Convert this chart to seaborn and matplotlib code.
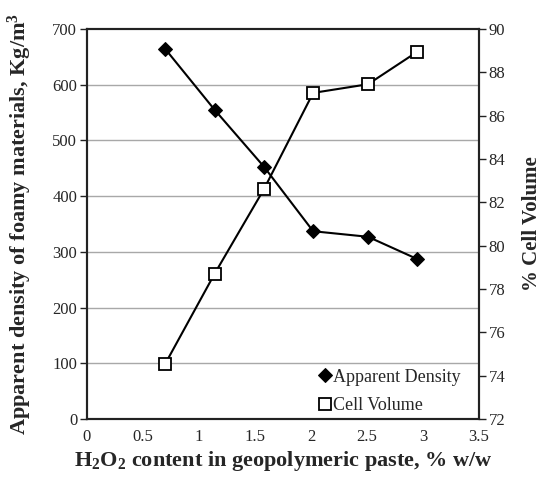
import matplotlib
matplotlib.use("Agg")
import matplotlib.pyplot as plt
import seaborn as sns
import pandas as pd

h2o2 = [0.70, 1.14, 1.58, 2.02, 2.51, 2.95]
density = [664, 555, 453, 337, 327, 287]
cell_volume = [74.55, 78.7, 82.6, 87.05, 87.45, 88.95]

x_ticks = [0, 0.5, 1, 1.5, 2, 2.5, 3, 3.5]
x_tick_labels = ["0", "0.5", "1", "1.5", "2", "2.5", "3", "3.5"]
left_ticks = [0, 100, 200, 300, 400, 500, 600, 700]
right_ticks = [72, 74, 76, 78, 80, 82, 84, 86, 88, 90]

sns.set_style("white")
plt.rcParams["font.family"] = ["Liberation Serif", "DejaVu Serif"]
plt.rcParams["mathtext.fontset"] = "custom"
plt.rcParams["mathtext.rm"] = "Liberation Serif:bold"
plt.rcParams["mathtext.bf"] = "Liberation Serif:bold"
plt.rcParams["mathtext.it"] = "Liberation Serif:bold"

df = pd.DataFrame({"x": h2o2, "density": density, "cell": cell_volume})

fig = plt.figure(figsize=(5.43, 4.79), dpi=100)
ax = fig.add_axes([0.160, 0.1253, 0.722, 0.8142])
ax2 = ax.twinx()

for yv in left_ticks[1:-1]:
    ax.axhline(yv, color="#a8a8a8", lw=1.0, zorder=0)

sns.lineplot(data=df, x="x", y="density", ax=ax, color="black", lw=1.5,
             marker="D", markersize=7, markerfacecolor="black",
             markeredgecolor="black", label="Apparent Density", legend=False)
sns.lineplot(data=df, x="x", y="cell", ax=ax2, color="black", lw=1.5,
             marker="s", markersize=8, markerfacecolor="white",
             markeredgecolor="black", markeredgewidth=1.3,
             label="Cell Volume", legend=False)

ax.set_xlim(0, 3.5)
ax.set_ylim(0, 700)
ax2.set_ylim(72, 90)
ax.set_xticks(x_ticks)
ax.set_xticklabels(x_tick_labels)
ax.set_yticks(left_ticks)
ax2.set_yticks(right_ticks)

for a in (ax, ax2):
    for s in a.spines.values():
        s.set_color("#222222")
        s.set_linewidth(1.5)
    a.tick_params(direction="out", length=5, width=1, color="#222222",
                  labelsize=12, pad=2)
    a.grid(False)

ax.set_xlabel(r"$\mathbf{H_2O_2}$ content in geopolymeric paste, % w/w",
              fontsize=16, fontweight="bold", labelpad=3)
ax.set_ylabel("Apparent density of foamy materials, Kg/m$^\\mathbf{3}$",
              fontsize=16, fontweight="bold")
ax.yaxis.set_label_coords(-0.135, 0.5)
ax2.set_ylabel("% Cell Volume", fontsize=15, fontweight="bold", rotation=90)
ax2.yaxis.set_label_coords(1.11, 0.5)

h1, l1 = ax.get_legend_handles_labels()
h2, l2 = ax2.get_legend_handles_labels()
leg = ax2.legend(h1 + h2, l1 + l2, loc="lower right", frameon=False,
                 fontsize=13, handlelength=0.6, handletextpad=0.15,
                 bbox_to_anchor=(0.995, -0.03), labelspacing=0.65)
for lh in leg.get_lines():
    lh.set_linestyle("none")

fig.savefig("out.png", dpi=100)
